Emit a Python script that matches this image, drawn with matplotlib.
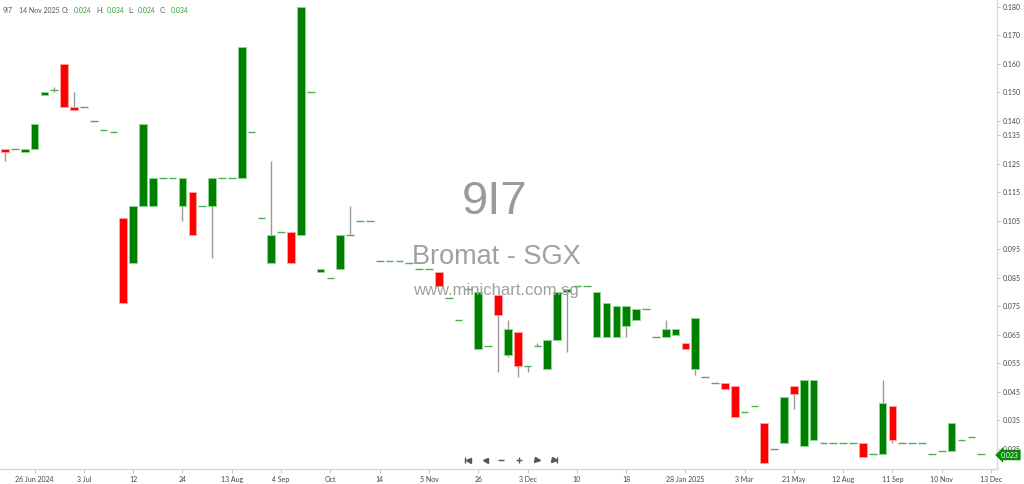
import matplotlib
matplotlib.use("Agg")
import matplotlib.pyplot as plt
from matplotlib.lines import Line2D
import numpy as np

# ---- data (weekly-ish candles) ----
opens = [0.130, 0.130, 0.129, 0.130, 0.149, 0.151, 0.160, 0.145, 0.145, 0.140,
         0.137, 0.136, 0.106, 0.090, 0.110, 0.110, 0.120, 0.120, 0.110, 0.115,
         0.110, 0.110, 0.120, 0.120, 0.120, 0.136, 0.106, 0.090, 0.101, 0.101,
         0.100, 0.150, 0.087, 0.085, 0.088, 0.100, 0.105, 0.105, 0.091, 0.091,
         0.091, 0.090, 0.088, 0.088, 0.087, 0.078, 0.070, 0.081, 0.060, 0.061,
         0.079, 0.058, 0.066, 0.054, 0.061, 0.053, 0.063, 0.080, 0.082, 0.082,
         0.064, 0.064, 0.064, 0.068, 0.070, 0.074, 0.064, 0.064, 0.065, 0.062,
         0.053, 0.050, 0.048, 0.048, 0.047, 0.038, 0.040, 0.034, 0.025, 0.027,
         0.047, 0.026, 0.028, 0.027, 0.027, 0.027, 0.027, 0.027, 0.023, 0.023,
         0.040, 0.027, 0.027, 0.027, 0.023, 0.024, 0.024, 0.028, 0.029, 0.023]
highs = [0.130, 0.130, 0.130, 0.139, 0.150, 0.152, 0.160, 0.150, 0.145, 0.140,
         0.137, 0.136, 0.106, 0.110, 0.139, 0.120, 0.120, 0.120, 0.120, 0.115,
         0.110, 0.120, 0.120, 0.120, 0.166, 0.136, 0.106, 0.126, 0.101, 0.101,
         0.180, 0.150, 0.088, 0.085, 0.100, 0.110, 0.105, 0.105, 0.091, 0.091,
         0.091, 0.090, 0.088, 0.088, 0.087, 0.078, 0.070, 0.081, 0.080, 0.061,
         0.079, 0.070, 0.066, 0.054, 0.062, 0.063, 0.080, 0.081, 0.082, 0.082,
         0.080, 0.076, 0.075, 0.075, 0.074, 0.074, 0.064, 0.070, 0.067, 0.062,
         0.071, 0.050, 0.048, 0.048, 0.047, 0.038, 0.040, 0.034, 0.025, 0.043,
         0.047, 0.049, 0.049, 0.027, 0.027, 0.027, 0.027, 0.027, 0.023, 0.049,
         0.040, 0.027, 0.027, 0.027, 0.023, 0.024, 0.034, 0.028, 0.029, 0.023]
lows = [0.126, 0.130, 0.129, 0.130, 0.149, 0.150, 0.145, 0.144, 0.145, 0.140,
        0.137, 0.136, 0.076, 0.090, 0.110, 0.110, 0.120, 0.120, 0.105, 0.100,
        0.110, 0.092, 0.120, 0.120, 0.120, 0.136, 0.106, 0.090, 0.101, 0.090,
        0.100, 0.150, 0.087, 0.085, 0.088, 0.100, 0.105, 0.105, 0.091, 0.091,
        0.091, 0.090, 0.088, 0.088, 0.082, 0.078, 0.070, 0.081, 0.060, 0.061,
        0.052, 0.057, 0.050, 0.052, 0.061, 0.053, 0.063, 0.059, 0.082, 0.082,
        0.064, 0.064, 0.064, 0.064, 0.070, 0.074, 0.064, 0.064, 0.065, 0.060,
        0.051, 0.050, 0.048, 0.046, 0.036, 0.038, 0.040, 0.020, 0.025, 0.027,
        0.039, 0.026, 0.028, 0.027, 0.027, 0.027, 0.027, 0.022, 0.023, 0.023,
        0.027, 0.027, 0.027, 0.027, 0.023, 0.024, 0.024, 0.028, 0.029, 0.023]
closes = [0.129, 0.130, 0.130, 0.139, 0.150, 0.151, 0.145, 0.144, 0.145, 0.140,
          0.137, 0.136, 0.076, 0.110, 0.139, 0.120, 0.120, 0.120, 0.120, 0.100,
          0.110, 0.120, 0.120, 0.120, 0.166, 0.136, 0.106, 0.100, 0.101, 0.090,
          0.180, 0.150, 0.088, 0.085, 0.100, 0.100, 0.105, 0.105, 0.091, 0.091,
          0.091, 0.090, 0.088, 0.088, 0.082, 0.078, 0.070, 0.081, 0.080, 0.061,
          0.072, 0.067, 0.054, 0.054, 0.061, 0.063, 0.080, 0.081, 0.082, 0.082,
          0.080, 0.076, 0.075, 0.075, 0.074, 0.074, 0.064, 0.067, 0.067, 0.060,
          0.071, 0.050, 0.048, 0.046, 0.036, 0.038, 0.040, 0.020, 0.025, 0.043,
          0.044, 0.049, 0.049, 0.027, 0.027, 0.027, 0.027, 0.022, 0.023, 0.041,
          0.028, 0.027, 0.027, 0.027, 0.023, 0.024, 0.034, 0.028, 0.029, 0.023]

x_tick_idx = [3, 8, 13, 18, 23, 28, 33, 38, 43, 48, 53, 58, 63, 69, 75, 80, 85, 90, 95, 100]
x_tick_labels = ["26 Jun 2024", "3 Jul", "12", "24", "13 Aug", "4 Sep", "Oct", "14",
                 "5 Nov", "26", "3 Dec", "10", "18", "28 Jan 2025", "3 Mar", "21 May",
                 "12 Aug", "11 Sep", "10 Nov", "13 Dec"]
y_ticks = [0.180, 0.170, 0.160, 0.150, 0.140, 0.135, 0.125, 0.115, 0.105, 0.095,
           0.085, 0.075, 0.065, 0.055, 0.045, 0.035, 0.025]

GREEN = "#008000"
GREEN_EDGE = "#8fd48f"
RED = "#ff0000"
RED_EDGE = "#ffa0a0"
DOJI = "#4caf50"
WICK = "#9a9a9a"

plt.rcParams['font.family'] = ['Lato', 'DejaVu Sans']
SMALL = 5.0

fig = plt.figure(figsize=(10.24, 4.84), dpi=100)
ax = fig.add_axes([0.0, 14.7 / 484, 997 / 1024, 1 - 14.7 / 484])

o = np.array(opens); h = np.array(highs); l = np.array(lows); c = np.array(closes)
xs = np.arange(len(o))
w = 0.78

# wicks
wm = h > l
ax.vlines(xs[wm], l[wm], h[wm], color=WICK, lw=1.0, zorder=1)

# doji dashes
dm = c == o
ax.hlines(c[dm], xs[dm] - w / 2, xs[dm] + w / 2, color=DOJI, lw=1.0, zorder=2)

# bodies
up = c > o
dn = c < o
ax.bar(xs[up], (c - o)[up], bottom=o[up], width=w, color=GREEN,
       edgecolor=GREEN_EDGE, linewidth=0.7, zorder=3)
ax.bar(xs[dn], (o - c)[dn], bottom=c[dn], width=w, color=RED,
       edgecolor=RED_EDGE, linewidth=0.7, zorder=3)

ax.set_xlim(-0.507, 100.6)
ax.set_ylim(0.01773, 0.18246)

# axes styling
for s in ["top", "left"]:
    ax.spines[s].set_visible(False)
for s in ["bottom", "right"]:
    ax.spines[s].set_color("#d8d8d8")
    ax.spines[s].set_linewidth(1.0)

ax.yaxis.tick_right()
ax.set_yticks(y_ticks)
ax.set_yticklabels([f"{v:.3f}" for v in y_ticks])
ax.tick_params(axis="y", length=2, width=0.6, color="#bbbbbb", pad=2,
               labelsize=SMALL, labelcolor="#444444")
ax.set_xticks(x_tick_idx)
ax.set_xticklabels(x_tick_labels)
ax.tick_params(axis="x", length=3, width=0.6, color="#bbbbbb", pad=2,
               labelsize=SMALL, labelcolor="#444444")

# watermark
fig.text(495 / 1024, 1 - 202 / 484, "9I7", ha="center", va="center",
         fontsize=34, color="#9a9a9a", family="Liberation Sans", zorder=0)
fig.text(496 / 1024, 1 - 257 / 484, "Bromat - SGX", ha="center", va="center",
         fontsize=19.5, color="#a0a0a0", family="Liberation Sans", zorder=0)
fig.text(496 / 1024, 1 - 290 / 484, "www.minichart.com.sg", ha="center", va="center",
         fontsize=12, color="#a0a0a0", family="Liberation Sans", zorder=0)

# header line
hy = 1 - 10.5 / 484
hdr = [(3, "9I7", "#555555"), (19, "14 Nov 2025", "#555555"), (62, "O:", "#555555"),
       (74, "0.024", "#2e9e2e"), (96, "H:", "#555555"), (107, "0.034", "#2e9e2e"),
       (128, "L:", "#555555"), (138, "0.024", "#2e9e2e"), (160, "C:", "#555555"),
       (171, "0.034", "#2e9e2e")]
for px, t, col in hdr:
    fig.text(px / 1024, hy, t, ha="left", va="center", fontsize=SMALL, color=col)

# last value badge
fig.text(1001 / 1024, 1 - 455 / 484, "0.023", ha="left", va="center", fontsize=SMALL,
         color="white", bbox=dict(boxstyle="larrow,pad=0.25", fc="#0a8a0a", ec="none"))

# navigation icons
ny = 1 - 459.5 / 484
navc = "#555555"
def mk(xp, m, ms=4.0, mew=1.0):
    fig.add_artist(Line2D([xp / 1024], [ny], marker=m, color=navc, markersize=ms,
                          markeredgewidth=mew, linestyle="none",
                          transform=fig.transFigure))
mk(464.5, "|", 4.5, 1.0); mk(467.5, "<", 3.6)
mk(484.5, "<", 3.6)
mk(501, "_", 5, 1.0)
mk(518.5, "+", 5, 1.0)
mk(536.5, ">", 3.6)
mk(553.5, ">", 3.6); mk(557, "|", 4.5, 1.0)

fig.savefig("out.png", dpi=100, facecolor="white")
